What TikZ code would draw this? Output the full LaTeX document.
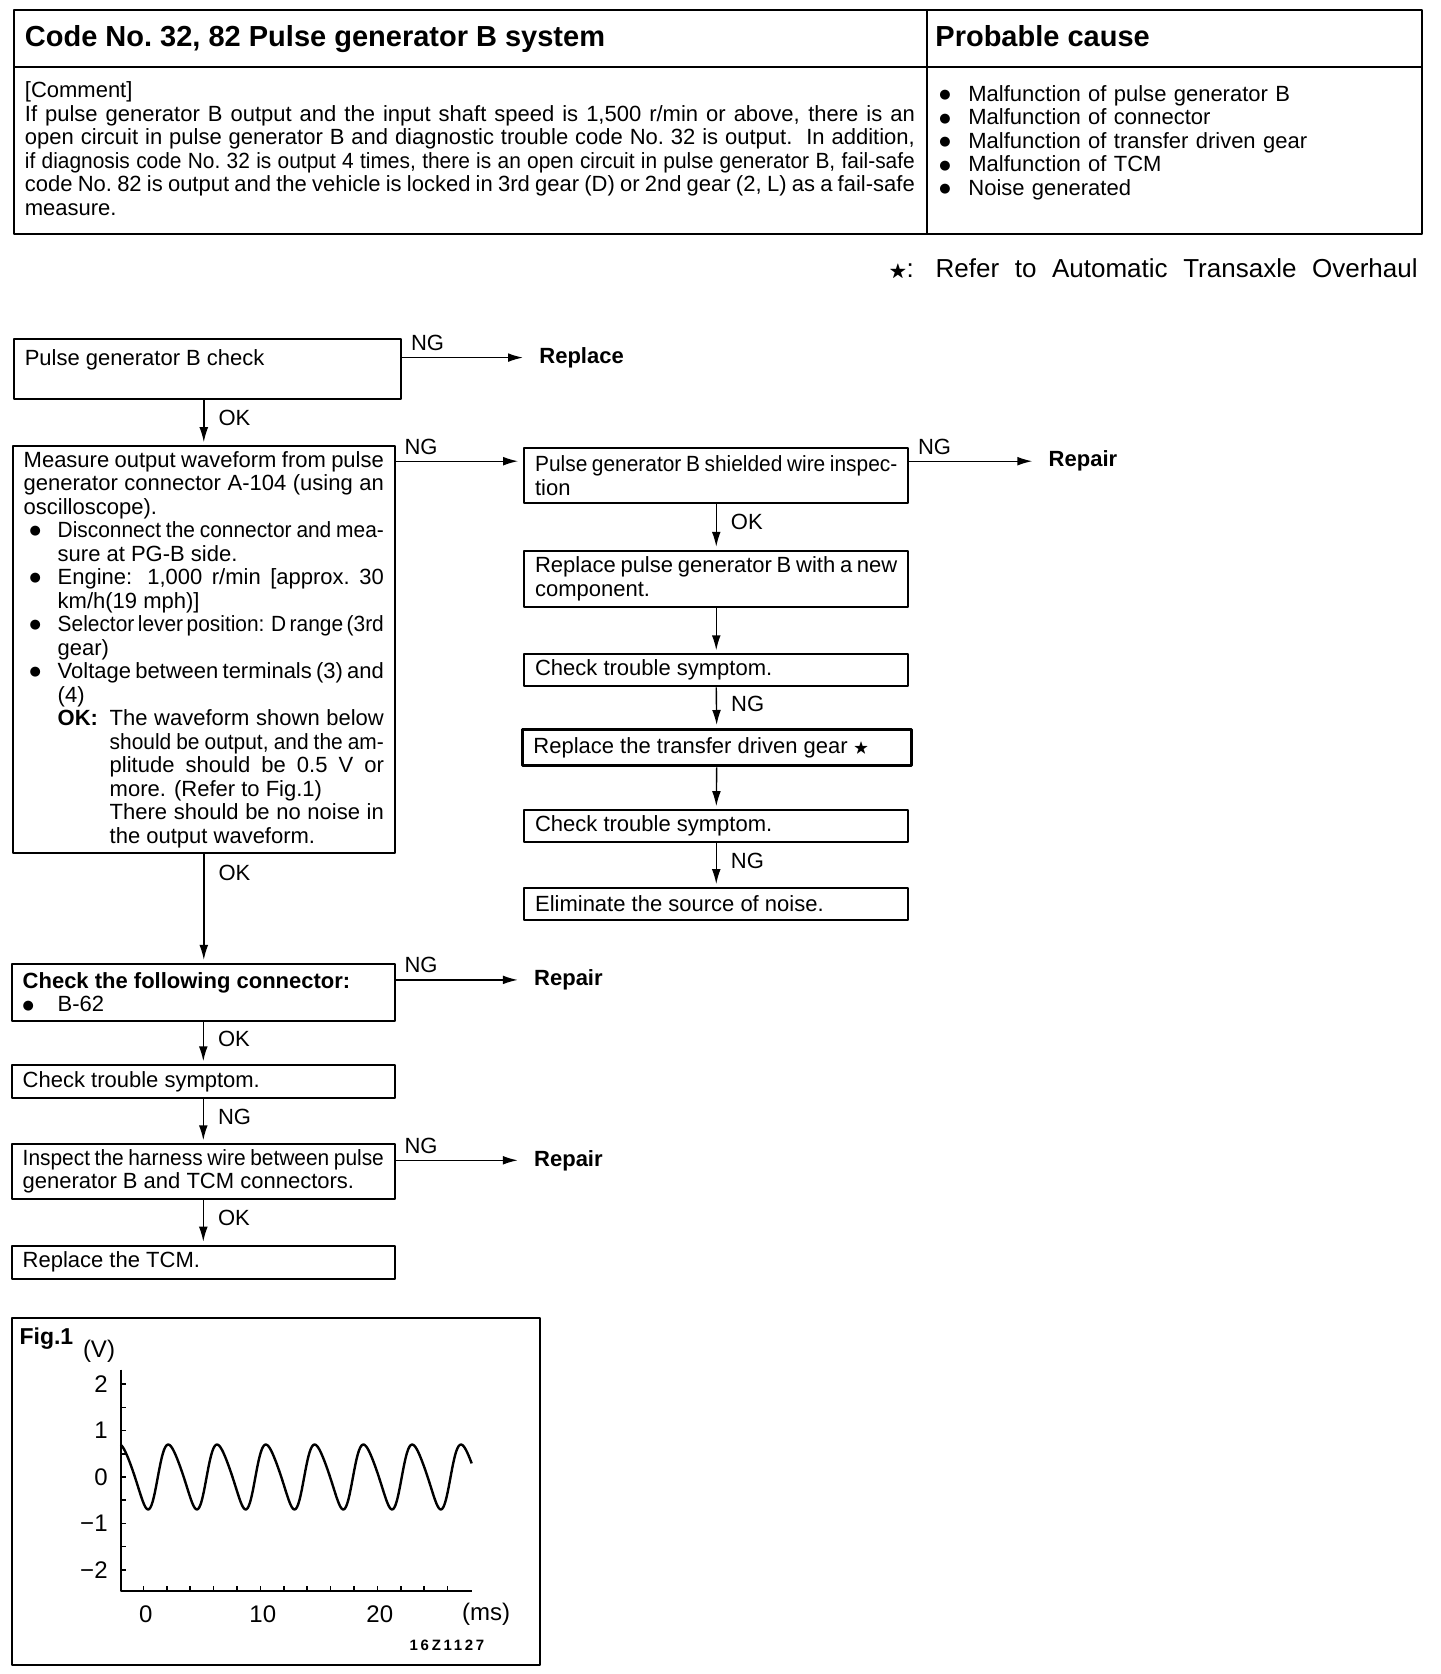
\documentclass[tikz,border=0pt]{standalone}
\usepackage{fontspec}
\usepackage{amssymb}
\setmainfont{Liberation Sans}[WordSpace={1,1.5,3}]
\newfontfamily\dotfont{DejaVu Sans}
\usetikzlibrary{arrows.meta}
\tolerance=10000
\hbadness=10000
\hyphenpenalty=10000
% squeezed lines and big bullets
\newcommand\tight{\addfontfeature{FakeStretch=0.95}}
\newcommand\blt{\raisebox{1.4pt}{\dotfont\fontsize{6.5}{7}\selectfont ●}}
\newcommand\bstar{\raisebox{0.05em}{\scalebox{0.7}{$\bigstar$}}}

\begin{document}
\begin{tikzpicture}[
        x=0.5pt, y=-0.5pt,
        line join=round,
        txt/.style={inner sep=0pt, font=\fontsize{11}{11.75}\selectfont},
        box/.style={draw, line width=1pt, anchor=north west, inner xsep=5.5pt,
            inner ysep=0pt, align=justify, font=\fontsize{11}{11.75}\selectfont},
        flow/.style={line width=0.7pt, -{Latex[length=7.5pt,width=4.4pt]}, shorten >=1.5pt},
        togo/.style={flow, shorten >=8pt},
        lbl/.style={txt, anchor=west, xshift=7pt},
        nglbl/.style={txt, anchor=base west, xshift=4pt, yshift=3.5pt},
        goal/.style={txt, anchor=west, font=\fontsize{11}{11.75}\selectfont\bfseries},
        axis/.style={txt, font=\fontsize{12}{14}\selectfont}
    ]
    \useasboundingbox (0,0) rectangle (1440,1674);

    % code table
    \draw[line width=1.2pt] (14,10) rectangle (1422,234);
    \draw[line width=0.8pt] (14,67) -- (1422,67) (927,10) -- (927,234);
    \node[txt, anchor=base west, font=\fontsize{14.5}{16}\selectfont\bfseries] (title)
        at (24.5,47) {Code No.\ 32, 82 Pulse generator B system};
    \node[txt, anchor=base west, font=\fontsize{14.5}{16}\selectfont\bfseries] (causehead)
        at (935,47) {Probable cause};
    \node[txt, anchor=base west, text width=445pt, align=justify] (comment) at (24.5,98)
        {[Comment]\\
        If pulse generator B output and the input shaft speed is 1,500 r/min or above, there is an\linebreak
        open circuit in pulse generator B and diagnostic trouble code No.\ 32 is output.\ \ In addition,\linebreak
        {\tight if diagnosis code No.\ 32 is output 4 times, there is an open circuit in pulse generator B, fail-safe}\linebreak
        code No.\ 82 is output and the vehicle is locked in 3rd gear (D) or 2nd gear (2, L) as a fail-safe\linebreak
        measure.};
    \node[txt, anchor=base west, text width=230pt, align=left] (causes) at (939,101.5)
        {\makebox[14.5pt][l]{\blt}Malfunction of pulse generator B\\
        \makebox[14.5pt][l]{\blt}Malfunction of connector\\
        \makebox[14.5pt][l]{\blt}Malfunction of transfer driven gear\\
        \makebox[14.5pt][l]{\blt}Malfunction of TCM\\
        \makebox[14.5pt][l]{\blt}Noise generated};

    \node[txt, anchor=base west, font=\fontsize{13}{15}\selectfont] (starmark) at (889,278) {\bstar:};
    \node[txt, anchor=base east, font=\fontsize{13}{15}\selectfont] (refnote) at (1418,278)
        {\makebox[241pt][s]{Refer to Automatic Transaxle Overhaul}};

    % left column
    \node[box, text width=182.75pt, minimum height=29.9pt] (pgchk) at (12.8,338.4)
        {Pulse generator B check\\\mbox{}};
    \node[box, text width=180.1pt, minimum height=203.35pt] (wave) at (11.7,445.2)
        {Measure output waveform from pulse\linebreak generator connector A-104 (using an\linebreak oscilloscope).\par
        \hangindent=17pt\hangafter=1\noindent\makebox[17pt][l]{\hspace{3pt}\blt}{\tight Disconnect the connector and mea-}\linebreak sure at PG-B side.\par
        \hangindent=17pt\hangafter=1\noindent\makebox[17pt][l]{\hspace{3pt}\blt}Engine: 1,000 r/min [approx.\ 30\linebreak km/h(19 mph)]\par
        \hangindent=17pt\hangafter=1\noindent\makebox[17pt][l]{\hspace{3pt}\blt}{\tight Selector lever position: D range (3rd}\linebreak gear)\par
        \hangindent=17pt\hangafter=1\noindent\makebox[17pt][l]{\hspace{3pt}\blt}Voltage between terminals (3) and\linebreak (4)\par
        {\leftskip=17pt \hangindent=26pt \hangafter=1 \noindent\makebox[26pt][l]{\textbf{OK:}}The waveform shown below\linebreak
        {\tight should be output, and the am-}\linebreak plitude should be 0.5 V or\linebreak more. (Refer to Fig.1)\par}
        {\leftskip=43pt \noindent There should be no noise in\linebreak the output waveform.\par}};
    \node[box, text width=180.6pt, minimum height=28.3pt] (conn) at (10.7,962.9)
        {\textbf{Check the following connector:}\\\makebox[17.5pt][l]{\blt}B-62};
    \node[box, text width=180.6pt, minimum height=16.55pt] (sym1) at (10.7,1064.3)
        {Check trouble symptom.};
    \node[box, text width=180.6pt, minimum height=27.2pt] (harness) at (10.7,1143.3)
        {{\tight Inspect the harness wire between pulse}\linebreak generator B and TCM connectors.};
    \node[box, text width=180.6pt, minimum height=16.55pt] (tcm) at (10.7,1244.7)
        {Replace the TCM.};

    % right column
    \node[box, text width=181.15pt, minimum height=27.2pt] (shield) at (523.1,447.3)
        {{\tight Pulse generator B shielded wire inspec-}\linebreak tion};
    \node[box, text width=181.15pt, minimum height=28.25pt] (newpg) at (523.1,549.8)
        {Replace pulse generator B with a new\linebreak component.};
    \node[box, text width=181.15pt, minimum height=16pt] (sym2) at (523.1,653.3)
        {Check trouble symptom.};
    \node[box, line width=1.5pt, text width=183.3pt, minimum height=18.15pt] (gear) at (520.9,728)
        {Replace the transfer driven gear \bstar};
    \node[box, text width=181.15pt, minimum height=16pt] (sym3) at (523.1,809.2)
        {Check trouble symptom.};
    \node[box, text width=181.15pt, minimum height=16pt] (noise) at (523.1,887.1)
        {Eliminate the source of noise.};

    \node[goal] (replace) at (539,357.6) {Replace};
    \node[goal] (repair1) at (1048.3,461.2) {Repair};
    \node[goal] (repair2) at (533.8,980) {Repair};
    \node[goal] (repair3) at (533.8,1160.4) {Repair};

    % connectors
    \draw[togo] ([yshift=-9.6pt]pgchk.north east) -- node[nglbl, pos=0] {NG} (replace.west);
    \draw[flow] (wave.north |- pgchk.south) -- node[lbl, pos=.4] {OK} (wave.north);
    \draw[flow, shorten >=2.5pt] ([yshift=-8pt]wave.north east) coordinate (w1)
        -- node[nglbl, pos=0] {NG} (w1 -| shield.west);
    \draw[togo] ([yshift=-6.95pt]shield.north east) coordinate (s1)
        -- node[nglbl, pos=0] {NG} (s1 -| repair1.west);
    \draw[flow] (shield.south) -- node[lbl, pos=.4] {OK} (newpg.north);
    \draw[flow] (newpg.south) -- (sym2.north);
    \draw[flow] (sym2.south) -- node[lbl, pos=.4] {NG} (gear.north);
    \draw[flow] (gear.south) -- (sym3.north);
    \draw[flow] (sym3.south) -- node[lbl, pos=.4] {NG} (noise.north);
    \draw[flow] (wave.south) -- node[lbl, pos=.17] {OK} (wave.south |- conn.north);
    \draw[togo] ([yshift=-8.5pt]conn.north east) coordinate (c1)
        -- node[nglbl, pos=0] {NG} (c1 -| repair2.west);
    \draw[flow] (conn.south) -- node[lbl, pos=.4] {OK} (sym1.north);
    \draw[flow] (sym1.south) -- node[lbl, pos=.4] {NG} (harness.north);
    \draw[togo] ([yshift=-8.5pt]harness.north east) coordinate (h1)
        -- node[nglbl, pos=0] {NG} (h1 -| repair3.west);
    \draw[flow] (harness.south) -- node[lbl, pos=.4] {OK} (tcm.north);

    % Fig.1
    \draw[line width=1pt] (11.7,1318.4) rectangle (540,1665);
    \node[txt, anchor=base west, font=\fontsize{11.5}{13}\selectfont\bfseries] (figname) at (19.2,1344) {Fig.1};
    \draw[line width=1pt] (120.7,1369.6) coordinate (ytop) -- (120.7,1591) coordinate (orig)
        -- (471.7,1591) coordinate (xend);
    \foreach \v in {-2,-1.5,...,2}
        \draw[line width=0.8pt] (120.7,{1477-46.4*\v}) -- ++(5,0);
    \foreach \t in {0,2,...,26}
        \draw[line width=0.8pt] ({143.3+11.7*\t},1591) -- ++(0,-5);
    \foreach \v/\s [count=\i] in {2/2,1/1,0/0,-1/−1,-2/−2}
        \node[axis, anchor=east] (ylab\i) at (108,{1477-46.4*\v}) {\s};
    \foreach \t [count=\i] in {0,10,20}
        \node[axis] (xlab\i) at ({145.8+11.7*\t},1614) {\t};
    \node[axis] (vunit) at (99,1351.5) {(V)};
    \node[axis] (msunit) at (486,1614) {(ms)};
    \node[txt, font=\fontsize{7.5}{8}\selectfont\bfseries] (figcode) at (447,1645)
        {\addfontfeature{LetterSpace=18}16Z1127};
    \draw[line width=1.2pt] plot[domain=-1.93:28.07, samples=300, smooth]
        ({143.3+11.7*\x}, {1477-46.4*0.7*cos(360*(\x-2.13)/4.17 - 17.19*(1-cos(360*(\x-2.13)/4.17)))});
\end{tikzpicture}
\end{document}
